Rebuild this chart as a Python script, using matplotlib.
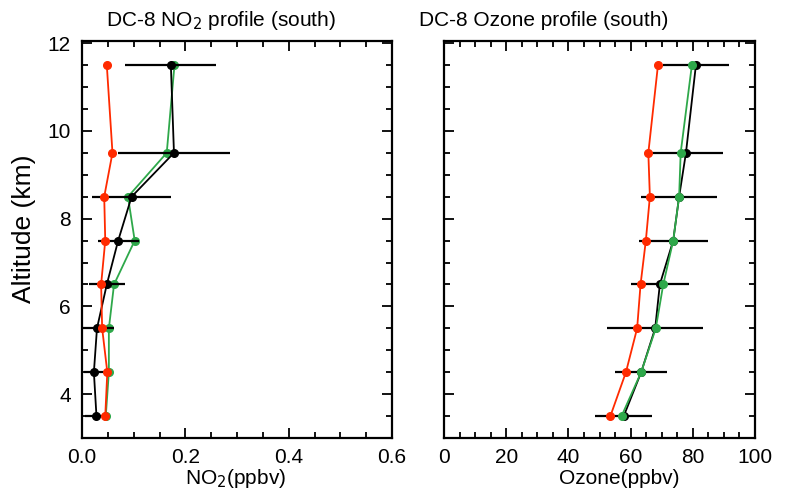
import matplotlib
matplotlib.use("Agg")
import matplotlib.pyplot as plt
from matplotlib.ticker import MultipleLocator

plt.rcParams['font.family'] = ['Liberation Sans', 'DejaVu Sans']

altitude = [11.5, 9.5, 8.5, 7.5, 6.5, 5.5, 4.5, 3.5]

# NO2 profile (ppbv)
no2_black = [0.172, 0.178, 0.096, 0.070, 0.048, 0.029, 0.023, 0.028]
no2_black_err = [0.088, 0.108, 0.077, 0.040, 0.035, 0.033, 0.020, 0.022]
no2_green = [0.179, 0.164, 0.089, 0.102, 0.062, 0.052, 0.052, 0.046]
no2_red = [0.048, 0.059, 0.043, 0.045, 0.037, 0.039, 0.049, 0.045]

# Ozone profile (ppbv)
o3_black = [81.0, 77.8, 75.6, 73.7, 69.4, 67.9, 63.4, 57.8]
o3_black_err = [10.6, 11.9, 12.1, 11.1, 9.3, 15.4, 8.3, 9.1]
o3_green = [79.7, 76.1, 75.6, 73.7, 70.5, 68.1, 63.4, 57.1]
o3_red = [68.8, 65.7, 66.2, 64.9, 63.2, 62.1, 58.5, 53.5]

RED = '#ff2a00'
GREEN = '#2ea84a'

fig = plt.figure(figsize=(7.86, 4.91), dpi=100)
W, H = 786, 491

def axes_px(x0, x1, y0, y1):
    return fig.add_axes([x0 / W, 1 - y1 / H, (x1 - x0) / W, (y1 - y0) / H])

ax1 = axes_px(82, 392, 41, 438)
ax2 = axes_px(444, 755, 41, 438)

def style(ax, xmaj, xmin):
    ax.set_ylim(3.0, 12.05)
    ax.yaxis.set_major_locator(MultipleLocator(2))
    ax.yaxis.set_minor_locator(MultipleLocator(0.5))
    ax.xaxis.set_major_locator(MultipleLocator(xmaj))
    ax.xaxis.set_minor_locator(MultipleLocator(xmin))
    ax.tick_params(which='both', direction='in', top=True, right=True, width=1.3)
    ax.tick_params(which='major', length=7)
    ax.tick_params(which='minor', length=4)
    ax.tick_params(axis='x', labelsize=15, pad=7)
    ax.tick_params(axis='y', labelsize=15, pad=8)
    for s in ax.spines.values():
        s.set_linewidth(1.6)

lw = 1.3
ms = 5.5

# NO2 panel
ax1.errorbar(no2_black, altitude, xerr=no2_black_err, color='black', lw=lw,
             elinewidth=1.6, capsize=0, marker='o', ms=ms, zorder=4)
ax1.plot(no2_green, altitude, color=GREEN, lw=lw, marker='o', ms=ms, zorder=3)
ax1.plot(no2_red, altitude, color=RED, lw=lw, marker='o', ms=ms, zorder=5)
ax1.set_xlim(0, 0.6)
style(ax1, 0.2, 0.05)
ax1.set_xticks([0, 0.2, 0.4, 0.6])
ax1.set_xticklabels(['0.0', '0.2', '0.4', '0.6'])

# Ozone panel
ax2.errorbar(o3_black, altitude, xerr=o3_black_err, color='black', lw=lw,
             elinewidth=1.6, capsize=0, marker='o', ms=ms, zorder=3)
ax2.plot(o3_green, altitude, color=GREEN, lw=lw, marker='o', ms=ms, zorder=4)
ax2.plot(o3_red, altitude, color=RED, lw=lw, marker='o', ms=ms, zorder=5)
ax2.set_xlim(0, 100)
style(ax2, 20, 5)
ax2.tick_params(axis='y', labelleft=False)

# Titles and labels
fig.text(221 / W, 1 - 21 / H, 'DC-8 NO$_2$ profile (south)', ha='center', va='center', fontsize=15)
fig.text(544 / W, 1 - 21 / H, 'DC-8 Ozone profile (south)', ha='center', va='center', fontsize=15)
fig.text(236 / W, 1 - 479 / H, 'NO$_2$(ppbv)', ha='center', va='center', fontsize=15)
fig.text(619 / W, 1 - 479 / H, 'Ozone(ppbv)', ha='center', va='center', fontsize=15)
fig.text(24 / W, 1 - 229 / H, 'Altitude (km)', ha='center', va='center', rotation=90, fontsize=19)

fig.savefig('out.png', dpi=100)
